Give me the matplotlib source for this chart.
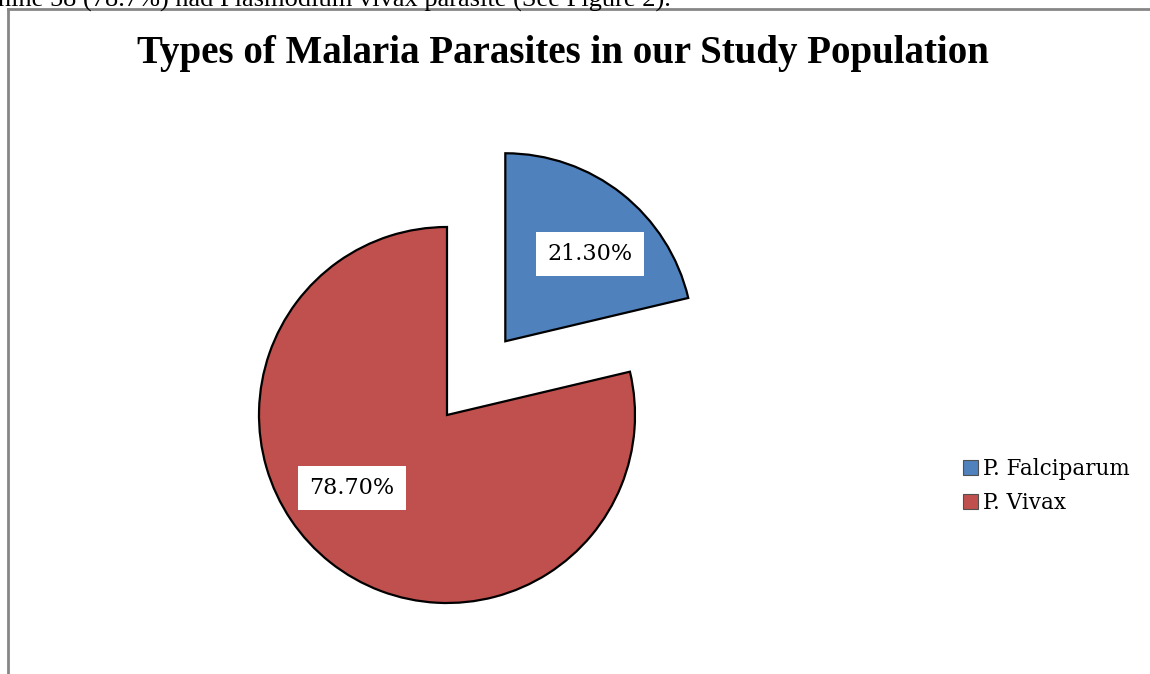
import matplotlib
matplotlib.use('Agg')
import matplotlib.pyplot as plt
from matplotlib.patches import Patch

labels = ["P. Falciparum", "P. Vivax"]
values = [21.3, 78.7]
pct_labels = ["21.30%", "78.70%"]
colors = ["#4f81bd", "#c0504d"]
explode = [0.5, 0.0]

title = "Types of Malaria Parasites in our Study Population"
top_text = "nine 58 (78.7%) had Plasmodium vivax parasite (See Figure 2)."

W, H = 1150, 674
fig = plt.figure(figsize=(W / 100, H / 100), dpi=100)
ax = fig.add_axes([0, 0, 1, 1])

# pie centre and radius in pixels
cx, cy, r = 447, 415, 188

wedges, _ = ax.pie(values, colors=colors, explode=explode, startangle=90,
                   counterclock=False, radius=1.0,
                   wedgeprops=dict(edgecolor="black", linewidth=1.6))
ax.set_aspect('auto')
ax.set_xlim(-cx / r, (W - cx) / r)
ax.set_ylim(-(H - cy) / r, cy / r)
ax.axis('off')

def px(x, y):
    return ((x - cx) / r, (cy - y) / r)

box = dict(facecolor="white", edgecolor="none", pad=8)
for (x, y), t in zip([(590, 254), (352, 488)], pct_labels):
    ax.text(*px(x, y), t, ha="center", va="center", fontsize=16,
            family="DejaVu Serif", bbox=box)

fig.text(563 / W, 1 - 63 / H, title, ha="center", va="baseline",
         fontsize=28, fontweight="bold", family="Liberation Serif")

fig.text(-2 / W, 1 - 7 / H, top_text, ha="left", va="baseline", fontsize=19,
         family="Liberation Serif")

# chart frame (top and left visible)
fig.add_artist(plt.Line2D([8 / W, 1], [1 - 9 / H, 1 - 9 / H], color="#868686", lw=2))
fig.add_artist(plt.Line2D([8 / W, 8 / W], [0, 1 - 9 / H], color="#868686", lw=2))

handles = [Patch(facecolor=c, edgecolor="#505050", linewidth=0.8) for c in colors]
fig.legend(handles, labels, loc="upper left", bbox_to_anchor=(944 / W, 1 - 439 / H),
           frameon=False, prop=dict(family="DejaVu Serif", size=15.5),
           handlelength=0.7, handleheight=0.7, handletextpad=0.2, labelspacing=0.55)

fig.savefig("out.png", dpi=100)
